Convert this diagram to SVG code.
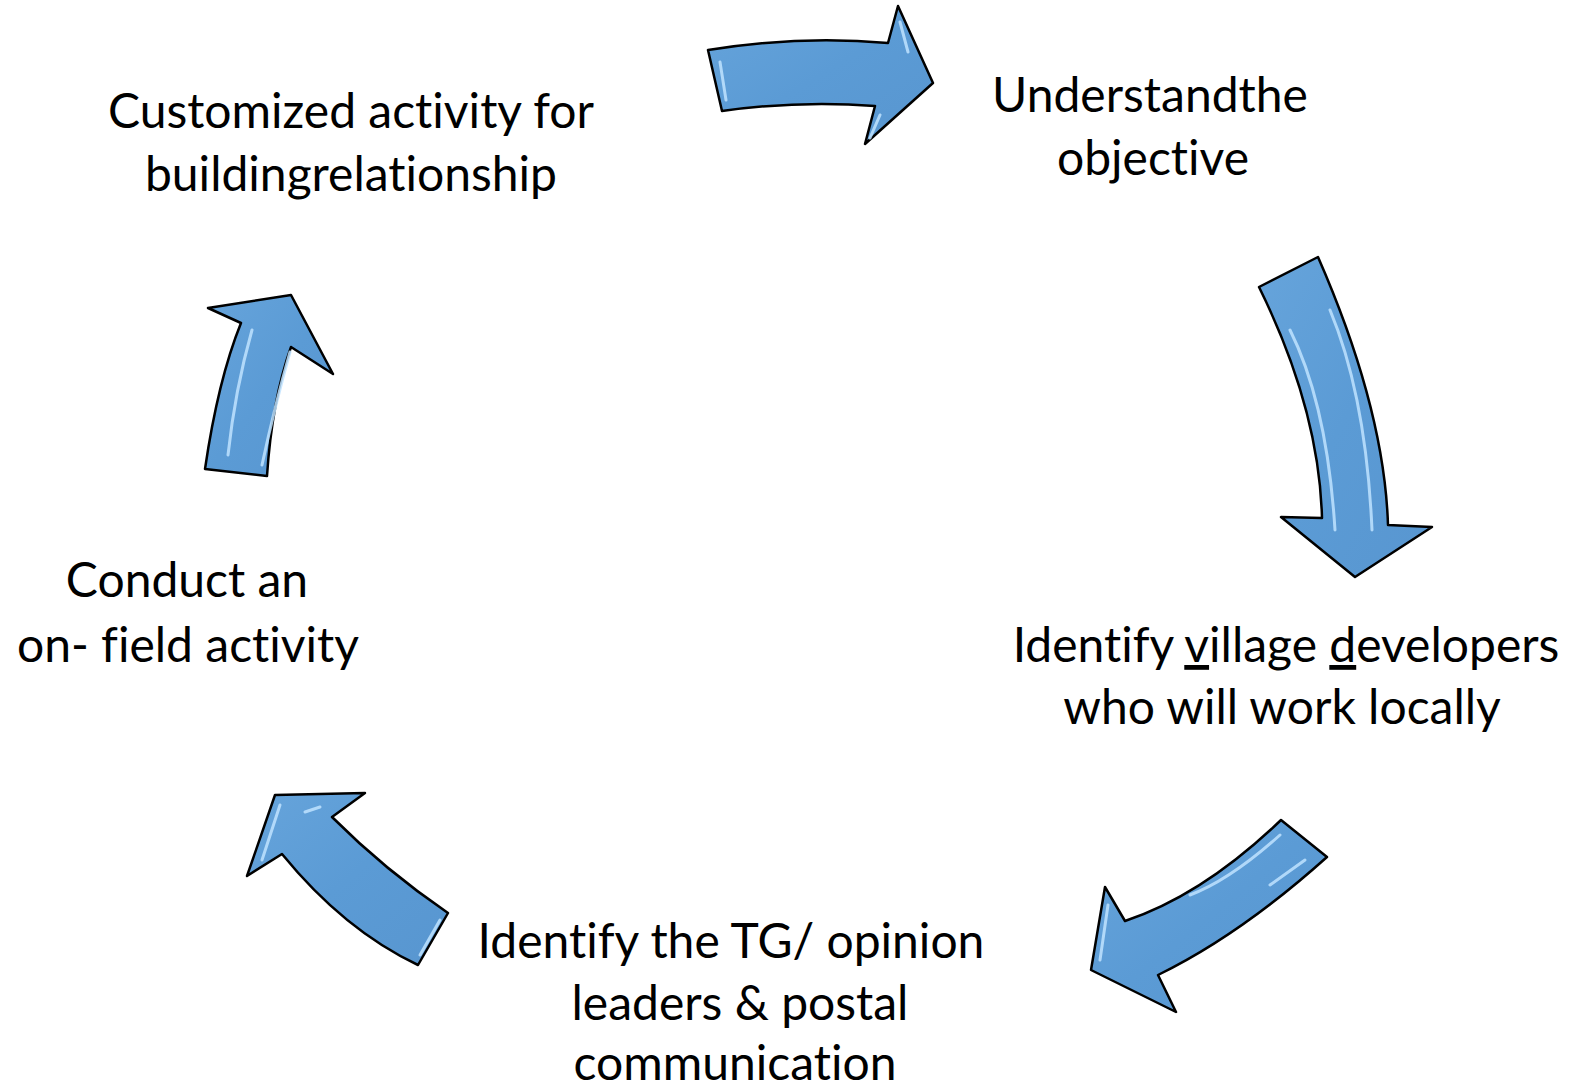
<svg xmlns="http://www.w3.org/2000/svg" width="1575" height="1092" viewBox="0 0 1575 1092">
<style>
.t{font-family:Lato,"Open Sans","Liberation Sans",sans-serif;font-size:48px;fill:#000;text-anchor:middle;font-variant-ligatures:none}
.arr{fill:url(#g);stroke:#000;stroke-width:2.5;stroke-linejoin:round}
.hl{fill:none;stroke:#bfe3ff;stroke-width:3;stroke-linecap:round;opacity:0.85}
</style>
<defs>
<linearGradient id="g" x1="0" y1="0" x2="1" y2="1">
<stop offset="0" stop-color="#66a4db"/>
<stop offset="0.5" stop-color="#5b9bd5"/>
<stop offset="1" stop-color="#5896d0"/>
</linearGradient>
</defs>
<rect width="1575" height="1092" fill="#fff"/>
<g id="connectors">
<g id="arrow1">
<path class="arr" d="M708,50 Q800,35 888,43 L898,6 L933,83 L865,144 L875,106 Q800,100 722,111 Z"/>
<path class="hl" d="M900,22 L908,52 M880,115 L870,138 M720,62 L726,100"/>
</g>
<g id="arrow2">
<path class="arr" d="M1259,287 L1318,257 C1350,330 1385,430 1388,525 L1432,527 L1355,577 L1281,517 L1322,518 C1320,440 1295,360 1259,287 Z"/>
<path class="hl" d="M1290,330 C1315,380 1330,450 1335,530 M1330,310 C1355,370 1368,440 1372,530"/>
</g>
<g id="arrow3">
<path class="arr" d="M1281,820 L1327,857 Q1240,935 1158,975 L1176,1012 L1091,970 L1105,887 L1125,921 Q1203,895 1281,820 Z"/>
<path class="hl" d="M1108,905 L1100,960 M1280,835 Q1230,880 1190,895 M1305,860 L1270,885"/>
</g>
<g id="arrow4">
<path class="arr" d="M448,913 L418,965 Q344,930 282,854 L247,876 L275,795 L365,793 L332,817 Q385,870 448,913 Z"/>
<path class="hl" d="M280,805 L262,860 M440,920 L420,955 M320,807 L305,812"/>
</g>
<g id="arrow5">
<path class="arr" d="M205,469 L267,476 Q272,400 291,347 L333,374 L291,295 L208,308 L241,323 Q218,380 205,469 Z"/>
<path class="hl" d="M252,330 Q235,390 228,455 M290,352 Q275,405 262,465"/>
</g>
</g>
<g id="node1"><text class="t" x="351" y="128">Customized activity for</text><text class="t" x="351" y="191">buildingrelationship</text></g>
<g id="node2"><text class="t" x="1150" y="112">Understandthe</text><text class="t" x="1153" y="175">objective</text></g>
<g id="node3"><text class="t" x="1286" y="662">Identify <tspan text-decoration="underline">v</tspan>illage <tspan text-decoration="underline">d</tspan>evelopers</text><text class="t" x="1282" y="724">who will work locally</text></g>
<g id="node4"><text class="t" x="731" y="958">Identify the TG/ opinion</text><text class="t" x="740" y="1020">leaders &amp; postal</text><text class="t" x="735" y="1080">communication</text></g>
<g id="node5"><text class="t" x="187" y="597">Conduct an</text><text class="t" x="188" y="662">on- field activity</text></g>
</svg>
